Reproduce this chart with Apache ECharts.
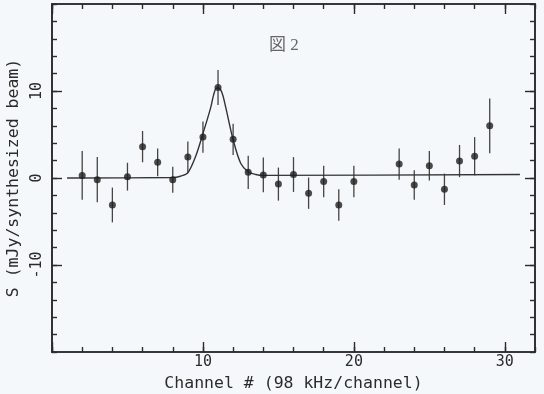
<!DOCTYPE html>
<html><head><meta charset="utf-8">
<script src="https://cdn.jsdelivr.net/npm/echarts@6/dist/echarts.min.js"></script>
<style>html,body{margin:0;padding:0;background:#f5f8fa}#c{width:544px;height:394px}</style>
</head><body><div id="c"></div>
<script>
const channels = [2,3,4,5,6,7,8,9,10,11,12,13,14,15,16,17,18,19,20,23,24,25,26,27,28,29];
const values   = [0.3,-0.2,-3.1,0.15,3.6,1.8,-0.2,2.4,4.7,10.4,4.45,0.65,0.35,-0.7,0.4,-1.75,-0.4,-3.1,-0.4,1.6,-0.8,1.4,-1.3,1.95,2.5,6.0];
const errors   = [2.8,2.6,2.0,1.6,1.8,1.6,1.5,1.8,1.8,2.0,1.8,1.9,2.0,1.9,2.0,1.8,1.8,1.8,1.8,1.8,1.7,1.7,1.8,1.85,2.2,3.15];
const fitX = [1,8,8.5,9,9.5,10,10.5,10.7,10.9,11.1,11.3,11.5,12,12.5,13,13.5,14,31];
const fitY = [0,0.05,0.2,0.6,2.4,5.1,8.0,9.5,10.35,10.3,9.6,8.2,4.4,1.7,0.7,0.4,0.3,0.4];
const xMajor = [0,10,20,30];
const xLabels = [10,20,30];
const yMajor = [-10,0,10];
const yLabels = [-10,0,10];
const xTitle = 'Channel # (98 kHz/channel)';
const yTitle = 'S (mJy/synthesized beam)';
const figTitle = '図 2';

const ink = '#2b2b2b';
const font = 'DejaVu Sans Mono';
function xAx(pos, major, labels) {
  return {
    type: 'value', position: pos, min: 0, max: 32, gridIndex: 0,
    interval: major ? 10 : 2,
    axisLine: { show: true, onZero: false, lineStyle: { color: ink, width: 1.6 } },
    axisTick: { show: true, inside: true, length: major ? 10 : 5, lineStyle: { color: ink, width: 1.4 },
      customValues: major ? xMajor : undefined },
    axisLabel: { show: !!labels, customValues: labels ? xLabels : undefined, color: ink, fontFamily: font, fontSize: 15, margin: 3 },
    splitLine: { show: false },
    name: labels ? xTitle : '', nameLocation: 'middle', nameGap: 21,
    nameTextStyle: { color: ink, fontFamily: font, fontSize: 16.5 }
  };
}
function yAx(pos, major, labels) {
  return {
    type: 'value', position: pos, min: -20, max: 20, gridIndex: 0,
    interval: major ? 10 : 2,
    axisLine: { show: true, onZero: false, lineStyle: { color: ink, width: 1.6 } },
    axisTick: { show: true, inside: true, length: major ? 10 : 5, lineStyle: { color: ink, width: 1.4 },
      customValues: major ? yMajor : undefined },
    axisLabel: { show: !!labels, customValues: labels ? yLabels : undefined, rotate: 90, color: ink, fontFamily: font, fontSize: 15, margin: 7 },
    splitLine: { show: false },
    name: labels ? yTitle : '', nameLocation: 'middle', nameGap: 26, nameRotate: 90,
    nameTextStyle: { color: ink, fontFamily: font, fontSize: 16.5 }
  };
}

const chart = echarts.init(document.getElementById('c'), null, { renderer: 'canvas' });
chart.setOption({
  backgroundColor: '#f5f8fa',
  animation: false,
  title: { text: figTitle, left: 264, top: 32, textStyle: { color: '#666', fontFamily: 'Liberation Serif, Noto Sans CJK JP', fontSize: 17, fontWeight: 'normal' } },
  grid: { left: 52, right: 9, top: 4, bottom: 42, show: false, outerBoundsMode: 'none', containLabel: false },
  xAxis: [xAx('bottom', true, true), xAx('bottom', false, false), xAx('top', true, false), xAx('top', false, false)],
  yAxis: [yAx('left', true, true), yAx('left', false, false), yAx('right', true, false), yAx('right', false, false)],
  series: [
    { type: 'line', xAxisIndex: 0, yAxisIndex: 0, data: fitX.map((x, i) => [x, fitY[i]]), symbol: 'none', smooth: 0.3,
      lineStyle: { color: '#333', width: 1.4 } },
    { type: 'custom', xAxisIndex: 0, yAxisIndex: 0,
      data: channels.map((c, i) => [c, values[i] - errors[i], values[i] + errors[i]]),
      renderItem: function (params, api) {
        const p1 = api.coord([api.value(0), api.value(1)]);
        const p2 = api.coord([api.value(0), api.value(2)]);
        return { type: 'line', shape: { x1: p1[0], y1: p1[1], x2: p2[0], y2: p2[1] }, style: { stroke: '#444', lineWidth: 1.3 } };
      }, z: 3 },
    { type: 'scatter', xAxisIndex: 0, yAxisIndex: 0, data: channels.map((c, i) => [c, values[i]]), symbol: 'circle', symbolSize: 7,
      itemStyle: { color: '#1e1e1e' }, z: 4 }
  ]
});
</script></body></html>
